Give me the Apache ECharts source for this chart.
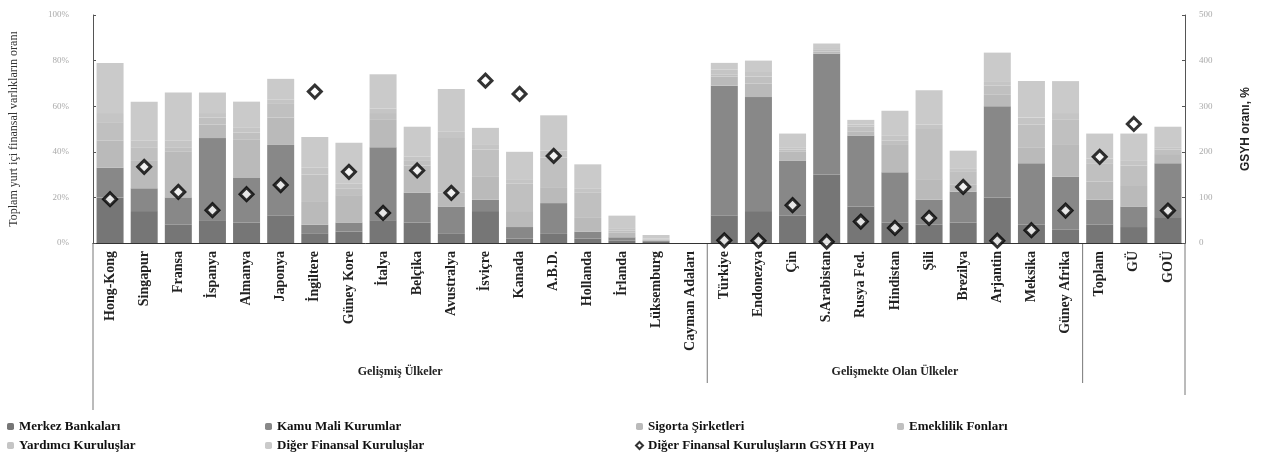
<!DOCTYPE html>
<html>
<head>
<meta charset="utf-8">
<script src="https://cdn.jsdelivr.net/npm/echarts@6/dist/echarts.min.js"></script>
<style>
html,body{margin:0;padding:0;background:#fff;}
#c{width:1272px;height:467px;}
</style>
</head>
<body>
<div id="c"></div>
<script>
const categories = ["Hong-Kong","Singapur","Fransa","İspanya","Almanya","Japonya","İngiltere","Güney Kore","İtalya","Belçika","Avustralya","İsviçre","Kanada","A.B.D.","Hollanda","İrlanda","Lüksemburg","Cayman Adaları","Türkiye","Endonezya","Çin","S.Arabistan","Rusya Fed.","Hindistan","Şili","Brezilya","Arjantin","Meksika","Güney Afrika","Toplam","GÜ","GOÜ"];

const merkezBankalari = [20,14,8,10,9,12,4,5,10,9,4,14,2,4,2,1,0.5,0,12,14,12,30,16,9,8,9,20,8,6,8,7,11];
const kamuMaliKurumlar = [13,10,12,36,19.5,31,4,4,32,13,12,5,5,13.5,3,1.5,0.5,0,57,50,24,53,31,22,11,13.5,40,27,23,11,9,24];
const sigortaSirketleri = [12,12,20,6,17,12,10,12,12,12,6,10,7,7,6,2,0.5,0,4,6,4,1,2,12,9,3,5,7,14,8,9,4];
const emeklilikFonlari = [8,6,2,3,3,6,12,3,3,2,24,12,12,13,11,1,0.2,0,1,3,1,1,2,2,22,6,4,10,11,8,9,2];
const yardimciKuruluslar = [4,3,3,2,2,2,3,2,2,2,3,2,2,3,2,1,0.3,0,2,2,1,0.5,1,2,2,1,2,3,3,2,2,1];
const digerFinansal = [22,17,21,9,11.5,9,13.5,18,15,13,18.5,7.5,12,15.5,10.5,5.5,1.5,0,3,5,6,2,2,11,15,8,12.5,16,14,11,12,9];
const gsyhPayi = [96,167,112,72,107,127,332,156,66,159,110,356,327,191,null,null,null,null,6,5,83,3,47,33,55,123,5,28,71,189,261,71];

const leftTicks = ["0%","20%","40%","60%","80%","100%"];
const rightTicks = ["0","100","200","300","400","500"];
const groupNames = ["Gelişmiş Ülkeler","Gelişmekte Olan Ülkeler"];
const groupEnds = [17, 28];

const serif = "'Liberation Serif','DejaVu Serif',serif";
const chart = echarts.init(document.getElementById('c'));

function barSeries(name, data, color) {
  return {
    name: name, type: 'bar', stack: 'total', data: data, barWidth: 27,
    itemStyle: { color: color }, emphasis: { disabled: true }
  };
}
function legendCol(left, items) {
  return { left: left, top: 415, orient: 'vertical', itemGap: 6, itemWidth: 7, itemHeight: 7,
    textStyle: { fontFamily: serif, fontWeight: 'bold', fontSize: 13, color: '#111' },
    data: items };
}

const option = {
  animation: false,
  backgroundColor: '#fff',
  grid: { left: 89, right: 87, top: 15, bottom: 224, containLabel: false },
  legend: [
    legendCol(2, ['Merkez Bankaları', 'Yardımcı Kuruluşlar']),
    legendCol(260, ['Kamu Mali Kurumlar', 'Diğer Finansal Kuruluşlar']),
    legendCol(630, ['Sigorta Şirketleri', 'Diğer Finansal Kuruluşların GSYH Payı']),
    legendCol(892, ['Emeklilik Fonları'])
  ],
  xAxis: {
    type: 'category', data: categories,
    axisLine: { lineStyle: { color: '#333', width: 1 } },
    axisTick: { show: false },
    axisLabel: { interval: 0, rotate: 90, margin: 8, fontFamily: serif, fontWeight: 'bold', fontSize: 14, color: '#222' }
  },
  yAxis: [
    { type: 'value', min: 0, max: 100, interval: 20,
      name: 'Toplam yurt içi finansal varlıkların oranı', nameLocation: 'middle', nameGap: 73,
      nameTextStyle: { fontFamily: serif, fontSize: 12, color: '#333' },
      axisLine: { show: true, lineStyle: { color: '#555' } },
      axisTick: { show: true, inside: true, length: 3, lineStyle: { color: '#555' } },
      splitLine: { show: false },
      axisLabel: { fontFamily: serif, fontSize: 9, color: '#aaa', margin: 24,
        formatter: function (v) { return leftTicks[Math.round(v / 20)]; } } },
    { type: 'value', min: 0, max: 500, interval: 100,
      name: 'GSYH oranı, %', nameLocation: 'middle', nameGap: 55,
      nameTextStyle: { fontFamily: "'Liberation Sans',Arial,sans-serif", fontSize: 12, fontWeight: 'bold', color: '#222' },
      axisLine: { show: true, lineStyle: { color: '#555' } },
      axisTick: { show: true, inside: true, length: 3, lineStyle: { color: '#555' } },
      splitLine: { show: false },
      axisLabel: { fontFamily: serif, fontSize: 9, color: '#aaa', margin: 14,
        formatter: function (v) { return rightTicks[Math.round(v / 100)]; } } }
  ],
  series: [
    barSeries('Merkez Bankaları', merkezBankalari, '#767676'),
    barSeries('Kamu Mali Kurumlar', kamuMaliKurumlar, '#888888'),
    barSeries('Sigorta Şirketleri', sigortaSirketleri, '#bababa'),
    barSeries('Emeklilik Fonları', emeklilikFonlari, '#c0c0c0'),
    barSeries('Yardımcı Kuruluşlar', yardimciKuruluslar, '#c5c5c5'),
    barSeries('Diğer Finansal Kuruluşlar', digerFinansal, '#cacaca'),
    { name: 'Diğer Finansal Kuruluşların GSYH Payı', type: 'scatter', yAxisIndex: 1,
      data: gsyhPayi, symbol: 'diamond', symbolSize: 13,
      itemStyle: { color: '#fff', borderColor: '#000', borderWidth: 3 }, z: 5 }
  ]
};
chart.setOption(option);

// group separators and group labels below the category axis
const yBase = chart.convertToPixel({ yAxisIndex: 0 }, 0);
const half = (chart.convertToPixel({ xAxisIndex: 0 }, 1) - chart.convertToPixel({ xAxisIndex: 0 }, 0)) / 2;
const firstX = chart.convertToPixel({ xAxisIndex: 0 }, 0) - half;
const lastX = chart.convertToPixel({ xAxisIndex: 0 }, categories.length - 1) + half;
const bounds = [firstX].concat(groupEnds.map(i => chart.convertToPixel({ xAxisIndex: 0 }, i) + half)).concat([lastX]);
const graphics = [];
bounds.forEach(function (x, i) {
  const len = i === 0 ? 167 : (i === bounds.length - 1 ? 152 : 140);
  graphics.push({ type: 'line', shape: { x1: x, y1: yBase, x2: x, y2: yBase + len },
    style: { stroke: '#777', lineWidth: 1 }, silent: true });
});
groupNames.forEach(function (n, i) {
  const cx = (bounds[i] + bounds[i + 1]) / 2;
  graphics.push({ type: 'text', x: cx, y: yBase + 129,
    style: { text: n, fontFamily: serif, fontWeight: 'bold', fontSize: 12, fill: '#222', align: 'center', verticalAlign: 'middle' },
    silent: true });
});
chart.setOption({ graphic: graphics });
</script>
</body>
</html>
